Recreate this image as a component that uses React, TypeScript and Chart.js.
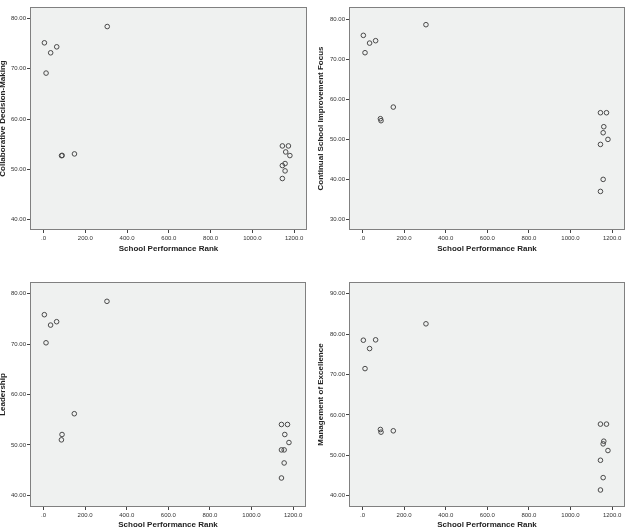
import React, { useEffect, useRef } from 'react';
import { Chart, registerables } from 'chart.js';

Chart.register(...registerables);

// School performance rank (shared x for every panel)
const RANKS = [4, 12, 34, 63, 86, 89, 148, 305, 1144, 1144, 1144, 1157, 1157, 1160, 1173, 1180];
const COLLABORATIVE = [75.17, 69.14, 73.18, 74.37, 52.7, 52.75, 53.05, 78.41, 54.64, 50.73, 48.15, 51.13, 49.67, 53.44, 54.64, 52.72];
const CONTINUAL = [75.93, 71.6, 74.0, 74.6, 55.15, 54.65, 58.05, 78.59, 56.64, 48.74, 37.02, 51.65, 40.02, 53.15, 56.64, 49.99];
const LEADERSHIP = [75.82, 70.25, 73.76, 74.43, 51.01, 52.07, 56.19, 78.47, 54.06, 49.02, 43.45, 49.02, 46.43, 52.07, 54.06, 50.48];
const MANAGEMENT = [78.49, 71.46, 76.42, 78.58, 56.39, 55.73, 56.06, 82.55, 57.72, 48.77, 41.41, 52.83, 44.47, 53.49, 57.72, 51.18];

const X_TICKS = [0, 200, 400, 600, 800, 1000, 1200];
const Y_TICKS_40_80 = [40, 50, 60, 70, 80];
const Y_TICKS_30_80 = [30, 40, 50, 60, 70, 80];
const Y_TICKS_40_90 = [40, 50, 60, 70, 80, 90];

const X_TITLE = 'School Performance Rank';
const FONT = '"Liberation Sans", Arial, Helvetica, sans-serif';
const W = 315;
const H = 265;

type Area = { left: number; top: number; right: number; bottom: number };

type PanelProps = {
  x: number;
  y: number;
  yTitle: string;
  values: number[];
  yTicks: number[];
  yMin: number;
  yMax: number;
  area: Area;
  yTitlePad: number;
  xTitlePad: number;
};

const plotBox = {
  id: 'plotBox',
  beforeDraw(chart: any) {
    const { ctx, chartArea: a } = chart;
    ctx.save();
    ctx.fillStyle = '#eff1f0';
    ctx.fillRect(a.left, a.top, a.right - a.left, a.bottom - a.top);
    ctx.restore();
  },
  afterDraw(chart: any) {
    const { ctx, chartArea: a } = chart;
    ctx.save();
    ctx.strokeStyle = '#808080';
    ctx.lineWidth = 1;
    ctx.strokeRect(Math.round(a.left) + 0.5, Math.round(a.top) + 0.5, Math.round(a.right - a.left) - 1, Math.round(a.bottom - a.top) - 1);
    ctx.restore();
  },
};

function Panel(p: PanelProps) {
  const ref = useRef<HTMLCanvasElement | null>(null);
  useEffect(() => {
    if (!ref.current) return;
    const chart = new Chart(ref.current, {
      type: 'scatter',
      data: {
        datasets: [
          {
            data: RANKS.map((r, i) => ({ x: r, y: p.values[i] })),
            pointRadius: 2.3,
            pointHoverRadius: 2.3,
            pointBorderWidth: 1,
            pointBorderColor: '#4a4a4a',
            pointBackgroundColor: 'rgba(0,0,0,0)',
          },
        ],
      },
      options: {
        animation: false,
        responsive: false,
        events: [],
        layout: { padding: { left: 0, top: p.area.top, right: W - p.area.right, bottom: 0 } },
        plugins: { legend: { display: false }, tooltip: { enabled: false } },
        scales: {
          x: {
            type: 'linear',
            min: -65,
            max: 1262,
            afterBuildTicks: (s: any) => {
              s.ticks = X_TICKS.map((v) => ({ value: v }));
            },
            afterFit: (s: any) => {
              s.height = H - p.area.bottom;
            },
            grid: { display: true, drawOnChartArea: false, drawTicks: true, tickLength: 3, color: '#444', lineWidth: 1 },
            border: { display: false },
            ticks: {
              autoSkip: false,
              maxRotation: 0,
              minRotation: 0,
              padding: 2,
              color: '#333',
              font: { size: 6, family: FONT },
              callback: (v: any) => (Number(v) === 0 ? '.0' : Number(v).toFixed(1)),
            },
            title: {
              display: true,
              text: X_TITLE,
              color: '#222',
              font: { size: 8, weight: 'bold', family: FONT },
              padding: { top: 0, bottom: p.xTitlePad },
            },
          },
          y: {
            type: 'linear',
            min: p.yMin,
            max: p.yMax,
            afterBuildTicks: (s: any) => {
              s.ticks = p.yTicks.map((v) => ({ value: v }));
            },
            afterFit: (s: any) => {
              s.width = p.area.left;
            },
            grid: { display: true, drawOnChartArea: false, drawTicks: true, tickLength: 3, color: '#444', lineWidth: 1 },
            border: { display: false },
            ticks: {
              autoSkip: false,
              padding: 1,
              color: '#333',
              font: { size: 6, family: FONT },
              callback: (v: any) => Number(v).toFixed(2),
            },
            title: {
              display: true,
              text: p.yTitle,
              color: '#222',
              font: { size: 8, weight: 'bold', family: FONT },
              padding: { top: p.yTitlePad, bottom: 0 },
            },
          },
        },
      } as any,
      plugins: [plotBox],
    });
    return () => chart.destroy();
  }, []);
  return (
    <canvas
      ref={ref}
      width={W}
      height={H}
      style={{ position: 'absolute', left: p.x, top: p.y, width: W, height: H }}
    />
  );
}

export default function App() {
  return (
    <div style={{ position: 'absolute', left: 0, top: 0, width: 630, height: 530, background: '#fff' }}>
      <Panel x={0} y={0} yTitle="Collaborative Decision-Making" values={COLLABORATIVE} yTicks={Y_TICKS_40_80} yMin={37.9} yMax={82.3}
        area={{ left: 30, top: 7, right: 307, bottom: 230 }} yTitlePad={-2.2} xTitlePad={11.5} />
      <Panel x={315} y={0} yTitle="Continual School Improvement Focus" values={CONTINUAL} yTicks={Y_TICKS_30_80} yMin={27.4} yMax={83}
        area={{ left: 34, top: 7, right: 310, bottom: 230 }} yTitlePad={1.2} xTitlePad={11.5} />
      <Panel x={0} y={265} yTitle="Leadership" values={LEADERSHIP} yTicks={Y_TICKS_40_80} yMin={37.7} yMax={82.3}
        area={{ left: 30, top: 17, right: 306, bottom: 242 }} yTitlePad={-2.2} xTitlePad={0.9} />
      <Panel x={315} y={265} yTitle="Management of Excellence" values={MANAGEMENT} yTicks={Y_TICKS_40_90} yMin={37.2} yMax={92.9}
        area={{ left: 34, top: 17, right: 310, bottom: 242 }} yTitlePad={1.2} xTitlePad={0.9} />
    </div>
  );
}
